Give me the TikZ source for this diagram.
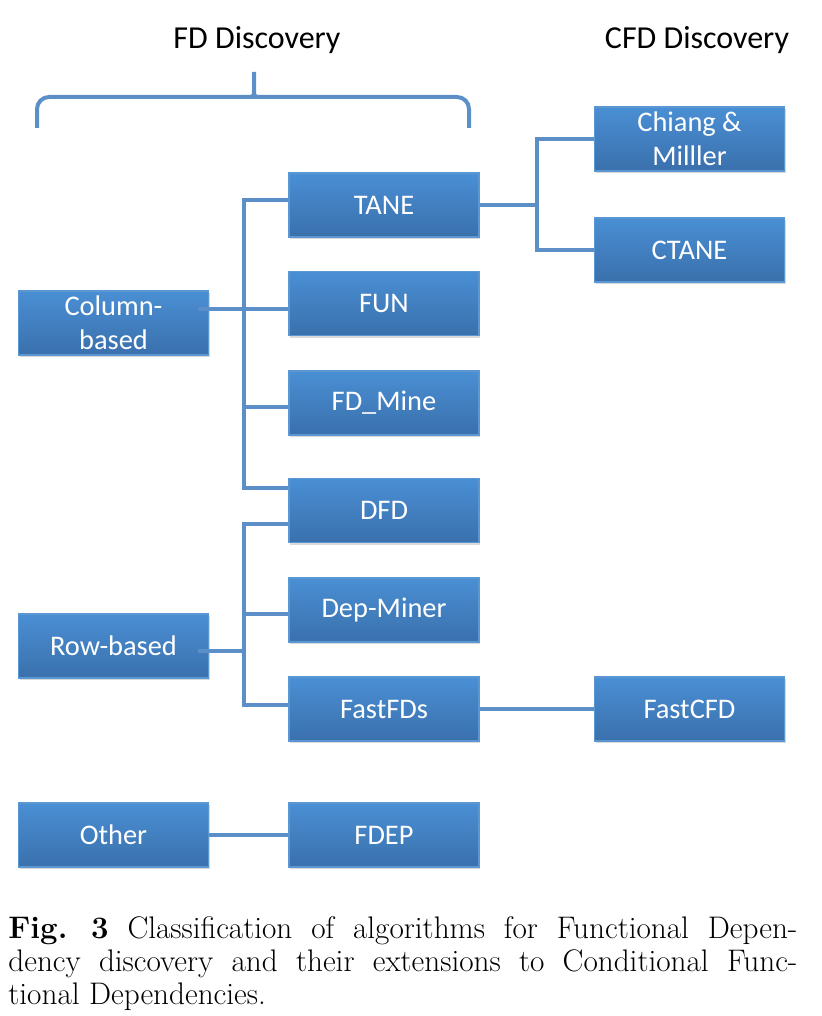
\documentclass[tikz,border=0pt]{standalone}
\usepackage{fontspec}
\newfontfamily\boxfont{Carlito}
\usepackage{xcolor}
\definecolor{boxTop}{HTML}{4A8FD4}
\definecolor{boxBottom}{HTML}{3A70AC}
\definecolor{boxEdge}{HTML}{5B97D2}
\definecolor{colorLink}{HTML}{5C8FC8}
\usetikzlibrary{shadows, positioning}
\tikzset{algo/.style={draw=boxEdge, line width=0.6pt, top color=boxTop, bottom color=boxBottom, minimum width=95pt, minimum height=32pt, inner sep=1pt, text=white, align=center, font=\boxfont\fontsize{14.2}{17}\selectfont, drop shadow={shadow xshift=0.6pt, shadow yshift=-1.2pt, opacity=0.3}}}
\tikzset{link/.style={colorLink, line width=2pt}}
\tikzset{heading/.style={font=\boxfont\fontsize{16}{19}\selectfont, text=black}}

\begin{document}
\begin{tikzpicture}[x=0.5pt, y=-0.5pt]
\useasboundingbox (0,0) rectangle (821,1016);
% headings and brace
\node[heading] (fdhead) at (257,40) {FD Discovery};
\node[heading] (cfdhead) at (697,40) {CFD Discovery};
\draw[colorLink, line width=2pt, rounded corners=6pt] (37,128) -- (37,97) -- (246,97) to[out=0, in=-90] (254,84) -- (254,65) -- (254,84) to[out=-90, in=180] (262,97) -- (469,97) -- (469,128);
% groups
\node[algo] (colb) at (113.5,323) {Column-\\based};
\node[algo] (rowb) at (113.5,646) {Row-based};
\node[algo] (other) at (113.5,835) {Other};
% FD algorithms
\node[algo] (tane) at (384,205) {TANE};
\node[algo] (fun) at (384,303.5) {FUN};
\node[algo] (fdmine) at (384,403) {FD\_Mine};
\node[algo] (dfd) at (384,510.5) {DFD};
\node[algo] (depminer) at (384,610) {Dep-Miner};
\node[algo] (fastfds) at (384,709) {FastFDs};
\node[algo] (fdep) at (384,835) {FDEP};
% CFD algorithms
\node[algo] (chiang) at (689.5,139) {Chiang \&\\Milller};
\node[algo] (ctane) at (689.5,250) {CTANE};
\node[algo] (fastcfd) at (689.5,709) {FastCFD};
% connectors
\coordinate (colj) at (244,309);
\coordinate (rowj) at (244,651);
\coordinate (tanej) at (537,205);
\draw[link] ([xshift=-5.5pt, yshift=7pt]colb.east) -- ([yshift=-2.75pt]fun.west);
\draw[link] ([yshift=2.5pt]tane.west) -| (colj) |- ([yshift=11.25pt]dfd.west);
\draw[link] ([yshift=-2pt]fdmine.west) -| (colj);
\draw[link] ([xshift=-5.5pt, yshift=-2.5pt]rowb.east) -- (rowj);
\draw[link] ([yshift=-6.75pt]dfd.west) -| (rowj) |- ([yshift=2pt]fastfds.west);
\draw[link] ([yshift=-2pt]depminer.west) -| (rowj);
\draw[link] (other) -- (fdep);
\draw[link] (tane.east) -- (tanej);
\draw[link] (chiang.west) -| (tanej) |- (ctane.west);
\draw[link] (fastfds) -- (fastcfd);
% caption
\node[anchor=north west, inner sep=0pt, text width=394.5pt, align=justify, font=\fontsize{15.6}{16.5}\selectfont] (caption) at (8,916) {\textbf{Fig.~3} Classification of algorithms for Functional Depen-\linebreak dency discovery and their extensions to Conditional Func-\linebreak tional Dependencies.};
\end{tikzpicture}
\end{document}
